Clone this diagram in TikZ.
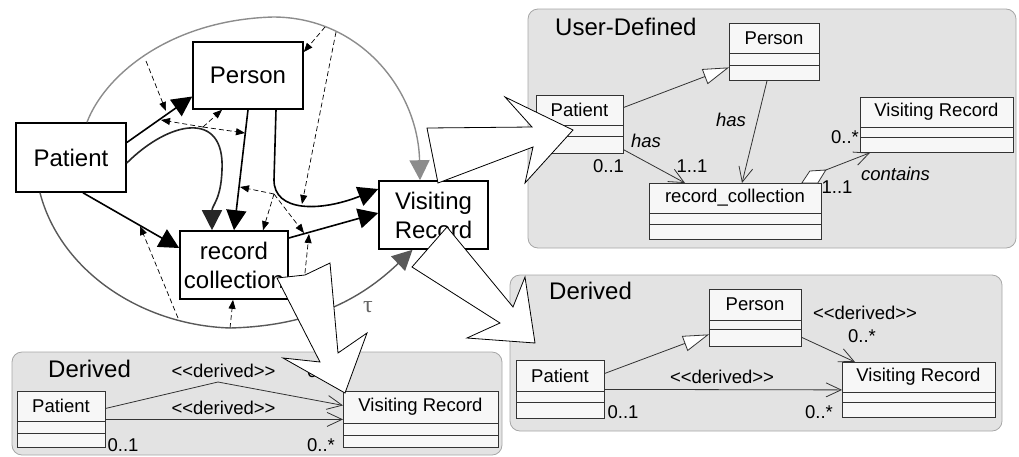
\documentclass[tikz,border=0pt]{standalone}
\usepackage{fontspec}
\setmainfont{Liberation Sans}
\newfontfamily\greekfont{Liberation Serif}
\usepackage{tikz}
\usetikzlibrary{arrows.meta}

\newcommand{\umlclass}[8]{%
  \node[umlbox,minimum width=#4pt,minimum height=#5pt,anchor=north west] (#1) at (#2,#3) {};
  \draw[umlline] (#2,#3+#6) -- ++(#4,0) (#2,#3+#7) -- ++(#4,0);
  \node[umltext] (#1-name) at (#2+#4/2,#3+#6/2) {#8};}
\newcommand{\stereo}[1]{<\kern0pt<#1>\kern0pt>}

\begin{document}
\begin{tikzpicture}[x=1pt,y=-1pt,
  gnode/.style={draw,line width=1.6pt,fill=white,inner sep=0pt,align=center,
    font=\fontsize{24}{29}\selectfont},
  dep/.style={line width=1.6pt,-{Triangle[length=20pt,width=20pt]}},
  tau/.style={draw=black!45,line width=1.4pt,-{Triangle[length=20pt,width=20pt]}},
  meta/.style={line width=0.7pt,dash pattern=on 5pt off 3pt,-{Triangle[length=9pt,width=7pt]}},
  bolt/.style={draw,line width=0.8pt,fill=white},
  panel/.style={draw=black!35,fill=black!11,line width=0.8pt,rounded corners=10pt},
  umlbox/.style={draw=black!80,fill=black!3,line width=0.8pt,inner sep=0pt},
  umlline/.style={draw=black!80,line width=0.8pt},
  umltext/.style={inner sep=0pt,font=\fontsize{18.5}{20}\selectfont},
  lbl/.style={umltext,anchor=base},
  ilbl/.style={lbl,font=\fontsize{18.5}{20}\selectfont\itshape},
  title/.style={inner sep=0pt,anchor=base west,font=\fontsize{24}{26}\selectfont},
  gen/.style={umlline,-{Triangle[length=26pt,width=16pt,fill=white]}},
  assoc/.style={umlline,-{Straight Barb[length=15pt,width=14pt]}}]
\useasboundingbox (0,0) rectangle (1019,456);

\draw[panel] (528,9) rectangle (1016,248);
\draw[panel] (510,275) rectangle (1002,431);
\draw[panel] (12,352) rectangle (502,455);
\node[title] (tUser) at (555,35) {User-Defined};
\node[title] (tDerR) at (549,299) {Derived};
\node[title] (tDerL) at (48,377) {Derived};

% user-defined model
\umlclass{uPer}{729}{23}{90}{57}{30}{42}{Person}
\umlclass{uPat}{536}{95}{87}{58}{30}{41}{Patient}
\umlclass{uRec}{649}{183}{172}{56}{30}{41}{record\_collection}
\umlclass{uVis}{860}{97}{153}{55}{30}{40}{Visiting Record}
\draw[gen] ([yshift=17pt]uPat.east) -- ([yshift=-15.5pt]uPer.west);
\draw[assoc] ([yshift=4pt]uPat.south east) -- ([xshift=36pt]uRec.north west);
\draw[assoc] ([xshift=38pt]uPer.south west) -- ([xshift=93pt]uRec.north west);
\draw[umlline,fill=white] ([xshift=-20pt]uRec.north east) -- ++(8,-12) -- ++(16,-1) coordinate (agg) -- ++(-8,13) -- cycle;
\draw[assoc] (agg) -- ([xshift=10pt]uVis.south west);
\node[ilbl] (uHas1) at (646,147) {has};
\node[ilbl] (uHas2) at (731,126) {has};
\node[lbl] (uM1) at (608.5,172) {0..1};
\node[lbl] (uM2) at (692,172) {1..1};
\node[lbl] (uM3) at (845,143) {0..*};
\node[lbl] (uM4) at (837,193) {1..1};
\node[ilbl] (uCont) at (895.5,180) {contains};

% derived, right
\umlclass{bPer}{709}{289}{92}{57}{31}{40}{Person}
\umlclass{bPat}{516}{360}{88}{58}{31}{42}{Patient}
\umlclass{bVis}{842}{362}{153}{55}{30}{40}{Visiting Record}
\draw[gen] ([yshift=16pt]bPat.east) -- ([yshift=-16.5pt]bPer.west);
\draw[assoc] ([yshift=-19.5pt]bPer.east) -- ([xshift=13pt]bVis.north west);
\draw[assoc] (bPat.east) -- (bVis.west);
\node[lbl] (bD1) at (865,319) {\stereo{derived}};
\node[lbl] (bM1) at (862,342) {0..*};
\node[lbl] (bD2) at (722,383) {\stereo{derived}};
\node[lbl] (bM2) at (623,418) {0..1};
\node[lbl] (bM3) at (819,418) {0..*};

% derived, left
\umlclass{lPat}{17}{391}{88}{56}{30}{42}{Patient}
\umlclass{lVis}{343}{391}{155}{56}{32}{44}{Visiting Record}
\draw[assoc] ([yshift=11pt]lPat.east) -- (218,382) -- ([yshift=14pt]lVis.west);
\draw[assoc] (lPat.east) -- (lVis.west);
\node[lbl] (lD1) at (223.5,377) {\stereo{derived}};
\node[lbl] (lD2) at (223.5,414) {\stereo{derived}};
\node[lbl] (lM1) at (123,451) {0..1};
\node[lbl] (lM2) at (321,451) {0..*};
\node[lbl] (lM3) at (321,377) {0..*};

% type graph
\node[gnode,minimum width=110pt,minimum height=69pt] (gPat) at (71,157.5) {Patient};
\node[gnode,minimum width=110pt,minimum height=67pt] (gPer) at (248,75.5) {Person};
\node[gnode,minimum width=108pt,minimum height=68pt] (gRec) at (234,265) {record\\collection};
\node[gnode,minimum width=109pt,minimum height=68pt] (gVis) at (433.5,215) {Visiting\\Record};

\draw[tau] ([xshift=16pt]gPat.north) .. controls (105,75) and (170,20) .. (273,17)
  .. controls (360,17) and (418,90) .. ([xshift=-13.5pt]gVis.north);
\draw[tau,draw=black!65] ([xshift=-31pt]gPat.south) .. controls (60,270) and (140,325) .. (230,328)
  .. controls (310,326) and (360,300) .. ([xshift=-21pt]gVis.south);
\node[text=black!60,font=\fontsize{24}{26}\greekfont] (tauLbl) at (368,307) {τ};

\draw[dep] ([yshift=15pt]gPat.east) -- ([yshift=-21pt]gPer.west);
\draw[dep] ([xshift=12pt]gPat.south) -- ([yshift=17pt]gRec.west);
\draw[dep,black!85] ([yshift=-5.5pt]gPat.east) .. controls (170,120) and (225,110) .. (222,170)
  .. controls (221,200) and (212,205) .. ([xshift=-22pt]gRec.north);
\draw[dep] (gPer.south) -- (gRec.north);
\draw[dep] ([xshift=28pt]gPer.south) -- (274,180) .. controls (274,212) and (320,212) .. ([yshift=26pt]gVis.west);
\draw[dep] ([yshift=27pt]gRec.east) -- ([yshift=2pt]gVis.west);

\coordinate (tA) at (146,61);
\coordinate (tB) at (325,27);
\coordinate (tC) at (336,32);
\coordinate (bA) at (178,318);
\coordinate (bB) at (230,328);
\coordinate (bC) at (300,321);
\coordinate (cA) at (203,127);
\coordinate (cB) at (274,194);
\coordinate (e1) at (166,111);
\coordinate (e3) at (161,120);
\coordinate (e5) at (245,133);
\coordinate (e6) at (302,204);
\coordinate (e7) at (240,187);
\coordinate (e9) at (304,233);
\coordinate (e10) at (309,234);
\coordinate (e12) at (140,226);
\draw[meta] (tA) -- (e1);
\draw[meta] (tB) -- ([yshift=23.5pt]gPer.east);
\draw[meta] (tC) -- (e6);
\draw[meta] (cA) -- (e3);
\draw[meta] (cA) -- ([xshift=-26pt]gPer.south);
\draw[meta] (cA) -- (e5);
\draw[meta] (cB) -- (e7);
\draw[meta] (cB) -- ([xshift=29pt]gRec.north);
\draw[meta] (cB) -- (e9);
\draw[meta] (bC) -- (e10);
\draw[meta] (bB) -- ([xshift=-1pt]gRec.south);
\draw[meta] (bA) -- (e12);

\draw[bolt] (427,128) -- (532,127) -- (505,97) -- (573,130) -- (525,183) -- (533,147) -- (438,183) -- cycle;
\draw[bolt] (277,278) -- (305,275) -- (330,263) -- (338,353) -- (367,333) -- (345,393) -- (283,358) -- (320,362) -- cycle;
\draw[bolt] (412,267) -- (447,227) -- (513,307) -- (525,277) -- (535,343) -- (467,338) -- (500,323) -- cycle;
\end{tikzpicture}
\end{document}
